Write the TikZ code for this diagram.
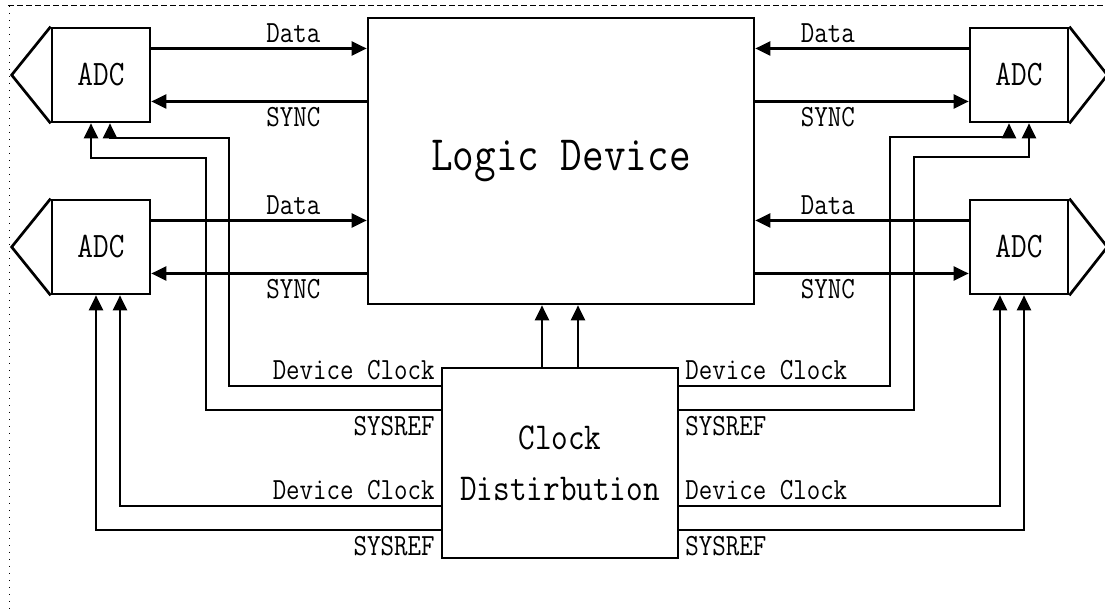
\documentclass[tikz,border=0pt]{standalone}
\usepackage{fontspec}
\usepackage{tikz}
\usetikzlibrary{arrows.meta}

\newfontfamily\lblfont[FakeStretch=0.85]{Latin Modern Mono}

\begin{document}
\begin{tikzpicture}[x=0.5pt,y=-0.5pt,
  blk/.style={draw,line width=1.35pt,inner sep=0pt},
  sig/.style={line width=1.1pt,-{Triangle[length=7.5pt,width=7pt]}},
  lbl/.style={font=\lblfont\fontsize{15.4}{17}\selectfont,inner sep=2.5pt}]

\useasboundingbox (0,0) rectangle (1105,613);

% Frame
\draw[line width=0.5pt,dash pattern=on 3pt off 1.5pt] (8,6)--(1105,6);
\draw[line width=0.5pt,dash pattern=on 0.6pt off 2.9pt] (9,6)--(9,613);

% Logic device and clock chip
\node[blk,minimum width=193pt,minimum height=143pt,
  font=\lblfont\fontsize{24.7}{28}\selectfont] (logic) at (561,161) {Logic Device};
\node[blk,minimum width=118pt,minimum height=95pt,align=center,
  font=\lblfont\fontsize{19}{25.5}\selectfont] (clk) at (560,463) {Clock\\Distirbution};

% ADCs
\foreach \n/\x/\y in {TL/101/75,BL/101/247,TR/1019/75,BR/1019/247}
  \node[blk,minimum width=49pt,minimum height=47pt,
    font=\lblfont\fontsize{17.9}{20}\selectfont] (adc\n) at (\x,\y) {ADC};

% Analog inputs
\foreach \n in {TL,BL}
  \draw[line width=1.35pt] (adc\n.north west) -- ([xshift=-19.5pt]adc\n.west) -- (adc\n.south west);
\foreach \n in {TR,BR}
  \draw[line width=1.35pt] (adc\n.north east) -- ([xshift=19pt]adc\n.east) -- (adc\n.south east);

% Data and SYNC
\foreach \n/\a/\l in {TL/east/west,BL/east/west,TR/west/east,BR/west/east} {
  \draw[sig] ([yshift=13.25pt]adc\n.center -| adc\n.\a) -- ([yshift=13.25pt]adc\n.center -| logic.\l)
    node[lbl,pos=0.66,above] {Data};
  \draw[sig] ([yshift=-13.25pt]adc\n.center -| logic.\l) -- ([yshift=-13.25pt]adc\n.center -| adc\n.\a)
    node[lbl,pos=0.34,below] {SYNC};
}

% Device clock and SYSREF, left side
\draw[sig] ([yshift=38.5pt]clk.west) node[lbl,anchor=south east] {Device Clock}
  -| (229,138) -| ([xshift=4.5pt]adcTL.south);
\draw[sig] ([yshift=26.5pt]clk.west) node[lbl,anchor=north east] {SYSREF}
  -| (206,158) -| ([xshift=-5pt]adcTL.south);
\draw[sig] ([yshift=-21.5pt]clk.west) node[lbl,anchor=south east] {Device Clock}
  -| ([xshift=9.5pt]adcBL.south);
\draw[sig] ([yshift=-33.5pt]clk.west) node[lbl,anchor=north east] {SYSREF}
  -| ([xshift=-2.5pt]adcBL.south);

% Device clock and SYSREF, right side
\draw[sig] ([yshift=38.5pt]clk.east) node[lbl,anchor=south west] {Device Clock}
  -| (890,137) -| ([xshift=-5pt]adcTR.south);
\draw[sig] ([yshift=26.5pt]clk.east) node[lbl,anchor=north west] {SYSREF}
  -| (914,157) -| ([xshift=5pt]adcTR.south);
\draw[sig] ([yshift=-21.5pt]clk.east) node[lbl,anchor=south west] {Device Clock}
  -| ([xshift=-9.5pt]adcBR.south);
\draw[sig] ([yshift=-33.5pt]clk.east) node[lbl,anchor=north west] {SYSREF}
  -| ([xshift=2.5pt]adcBR.south);

% Clocks to the logic device
\draw[sig] ([xshift=-9pt]clk.north) -- ([xshift=-9pt]clk.north |- logic.south);
\draw[sig] ([xshift=9pt]clk.north) -- ([xshift=9pt]clk.north |- logic.south);

\end{tikzpicture}
\end{document}
